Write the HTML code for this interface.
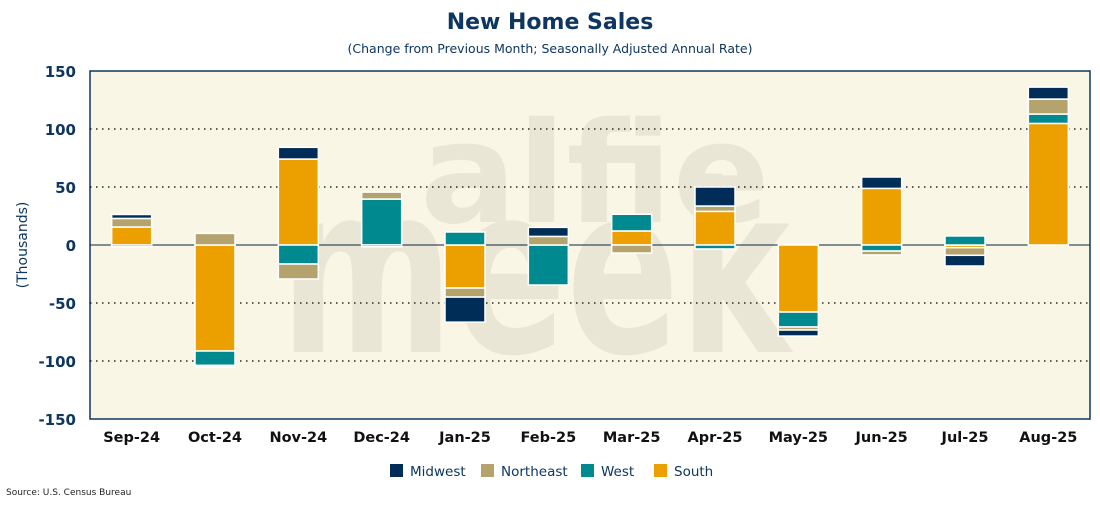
<!DOCTYPE html>
<html><head><meta charset="utf-8"><style>
body{margin:0;background:#fff;font-family:"Liberation Sans",sans-serif;}
</style></head><body>
<svg width="1100" height="500" xmlns="http://www.w3.org/2000/svg" id="chart">
<text x="550" y="29" text-anchor="middle" font-family="DejaVu Sans, Liberation Sans, sans-serif" font-weight="bold" font-size="22" fill="#0d3660">New Home Sales</text>
<text x="550" y="53" text-anchor="middle" font-family="DejaVu Sans, Liberation Sans, sans-serif" font-size="12.5" fill="#0d3660">(Change from Previous Month; Seasonally Adjusted Annual Rate)</text>
<rect x="90" y="71" width="1000" height="348" fill="#f9f6e6" stroke="#0d3660" stroke-width="1.5"/>
<g fill="#e9e6d6" font-family="DejaVu Sans, Liberation Sans, sans-serif" font-weight="bold">
<text x="420" y="222" font-size="140" textLength="350" lengthAdjust="spacingAndGlyphs">alfie</text>
<text x="280" y="352" font-size="235" textLength="510" lengthAdjust="spacingAndGlyphs">meek</text>
</g>
<g id="grid"></g><g id="bars"></g><g id="axes"></g>
<text transform="translate(27,245) rotate(-90)" text-anchor="middle" font-family="DejaVu Sans, Liberation Sans, sans-serif" font-size="14" fill="#0d3660">(Thousands)</text>
<g id="legend"></g>
<text x="6" y="495" font-family="DejaVu Sans, Liberation Sans, sans-serif" font-size="9" fill="#222">Source: U.S. Census Bureau</text>
</svg>
<script>
const categories=["Sep-24","Oct-24","Nov-24","Dec-24","Jan-25","Feb-25","Mar-25","Apr-25","May-25","Jun-25","Jul-25","Aug-25"];
const south=[15.5,-91.4,74.1,0,-37.1,0,12.1,29,-57.8,48.8,-2.3,104.8];
const west=[-1.5,-12.4,-16.4,39.6,11.2,-34.5,14.4,-3.4,-12.9,-5.2,7.8,8.1];
const northeast=[7.4,10,-12.9,6,-7.8,7.4,-6.9,4.6,-2.6,-3.4,-6.6,12.9];
const midwest=[3.4,-1.1,10.1,-1.5,-21.6,7.8,0,16.4,-5.2,9.8,-9.2,10.3];
const yTicks=[150,100,50,0,-50,-100,-150];
const NS="http://www.w3.org/2000/svg";
const L=90,R=1090,T=71,B=419,yMin=-150,yMax=150;
const y=v=>B-(v-yMin)/(yMax-yMin)*(B-T);
const bw=(R-L)/categories.length;
const xc=i=>L+bw*(i+0.5);
function mk(tag,at,parent){const e=document.createElementNS(NS,tag);for(const k in at)e.setAttribute(k,at[k]);document.getElementById(parent).appendChild(e);return e;}
yTicks.forEach(t=>{
 if(t!==yMin&&t!==yMax){const g=mk('line',{x1:L,x2:R,y1:y(t),y2:y(t),stroke:t===0?'#0d2240':'#000','stroke-width':t===0?1:1.2,'stroke-dasharray':t===0?'none':'1.5,4.5'},'grid');
 
 }
 const tx=mk('text',{x:76,y:y(t)+6,'text-anchor':'end','font-family':'DejaVu Sans, Liberation Sans, sans-serif','font-weight':'bold','font-size':15,fill:'#0d3660'},'axes');
 tx.textContent=t;
 
 
});
categories.forEach((c,i)=>{
 const tx=mk('text',{x:xc(i),y:442,'text-anchor':'middle','font-family':'DejaVu Sans, Liberation Sans, sans-serif','font-weight':'bold','font-size':14.5,fill:'#111'},'axes');
 tx.textContent=c;
 
 
});
const series=[["South",south,"#eba000"],["West",west,"#008a8f"],["Northeast",northeast,"#b5a36e"],["Midwest",midwest,"#002d57"]];
categories.forEach((c,i)=>{
 let pos=0,neg=0;
 series.forEach(([n,arr,col])=>{
  const v=arr[i];if(!v)return;
  let a,b;
  if(v>0){a=pos;b=pos+v;pos=b;}else{a=neg;b=neg+v;neg=b;}
  const y1=Math.min(y(a),y(b)),h=Math.abs(y(a)-y(b));
  const r=mk('rect',{x:xc(i)-20,y:y1,width:40,height:h,fill:col,stroke:'#fff','stroke-width':1.5},'bars');
  
  
 });
});
const leg=[["Midwest","#002d57",390],["Northeast","#b5a36e",481],["West","#008a8f",581],["South","#eba000",654]];
leg.forEach(([n,col,x])=>{
 const r=mk('rect',{x:x,y:464,width:13,height:13,fill:col},'legend');
 
 
 const t=mk('text',{x:x+20,y:476,'font-family':'DejaVu Sans, Liberation Sans, sans-serif','font-size':13.5,fill:'#0d3660'},'legend');
 t.textContent=n;
 
 
});
</script>
</body></html>
